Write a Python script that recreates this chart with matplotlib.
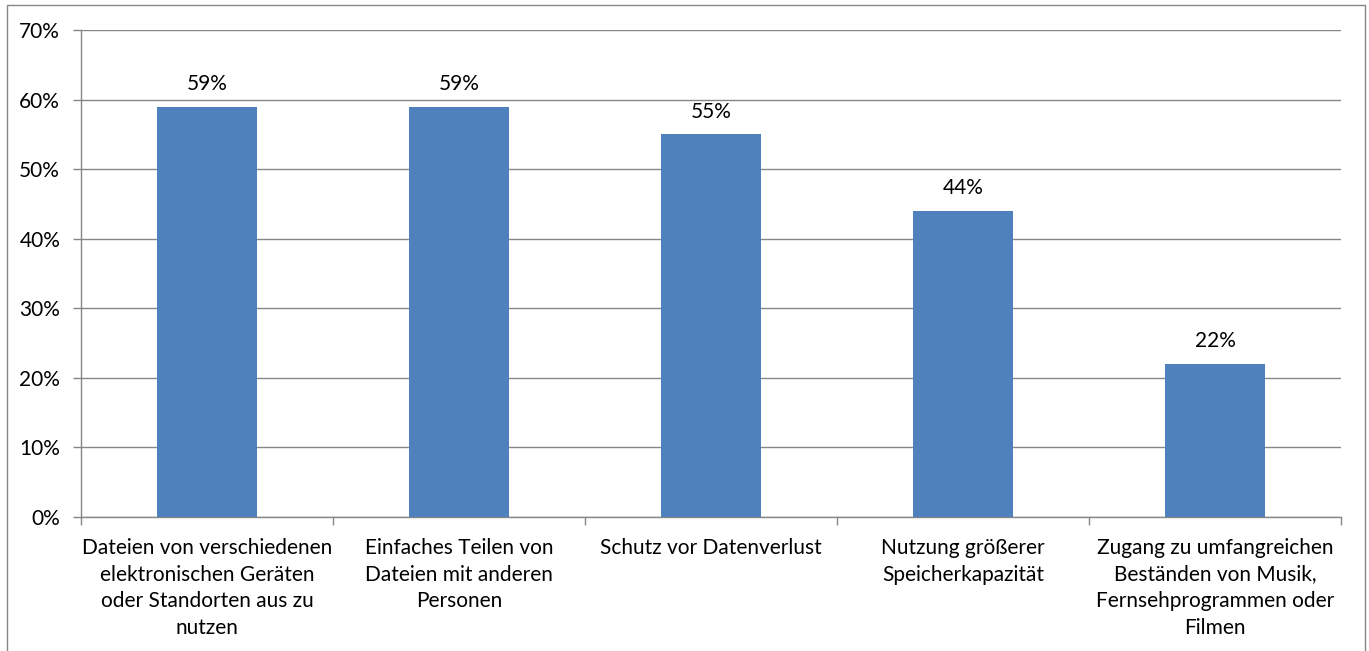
import matplotlib.pyplot as plt
from matplotlib.patches import Rectangle
from matplotlib.ticker import FuncFormatter, MultipleLocator

plt.rcParams['font.family'] = ['Lato', 'DejaVu Sans']

categories = [
    'Dateien von verschiedenen\nelektronischen Geräten\noder Standorten aus zu\nnutzen',
    'Einfaches Teilen von\nDateien mit anderen\nPersonen',
    'Schutz vor Datenverlust',
    'Nutzung größerer\nSpeicherkapazität',
    'Zugang zu umfangreichen\nBeständen von Musik,\nFernsehprogrammen oder\nFilmen',
]
values = [59, 59, 55, 44, 22]

grey = '#868686'
fs = 15
fig = plt.figure(figsize=(13.69, 6.51), dpi=100)
ax = fig.add_axes([81 / 1369, 1 - 517 / 651, 1260 / 1369, 487 / 651])

x = list(range(len(values)))
bars = ax.bar(x, values, width=0.4, color='#4F81BD', zorder=3)
for xi, v in zip(x, values):
    ax.text(xi, v + 1.8, f'{v}%', ha='center', va='bottom', fontsize=fs)

ax.set_xlim(-0.5, len(values) - 0.5)
ax.set_ylim(0, 70)
ax.yaxis.set_major_locator(MultipleLocator(10))
ax.yaxis.set_major_formatter(FuncFormatter(lambda v, p: f'{v:.0f}%'))
ax.grid(axis='y', color=grey, linewidth=1, zorder=0)

ax.set_xticks([i - 0.5 for i in range(len(values) + 1)])
ax.set_xticklabels([])
ax.set_xticks(x, minor=True)
ax.set_xticklabels(categories, minor=True, fontsize=fs, linespacing=1.42)
ax.tick_params(axis='x', which='minor', length=0, pad=15)
ax.tick_params(axis='x', which='major', length=6, color=grey, width=1)
ax.tick_params(axis='y', length=6, color=grey, width=1, labelsize=fs, pad=9)

for s in ['top', 'right']:
    ax.spines[s].set_visible(False)
for s in ['left', 'bottom']:
    ax.spines[s].set_color(grey)
    ax.spines[s].set_linewidth(1)

# outer chart border
fig.patches.append(Rectangle((7 / 1369, -0.05), 1358 / 1369, 1 - 5 / 651 + 0.05,
                             transform=fig.transFigure, fill=False,
                             edgecolor=grey, linewidth=1))

fig.savefig('out.png', dpi=100)
